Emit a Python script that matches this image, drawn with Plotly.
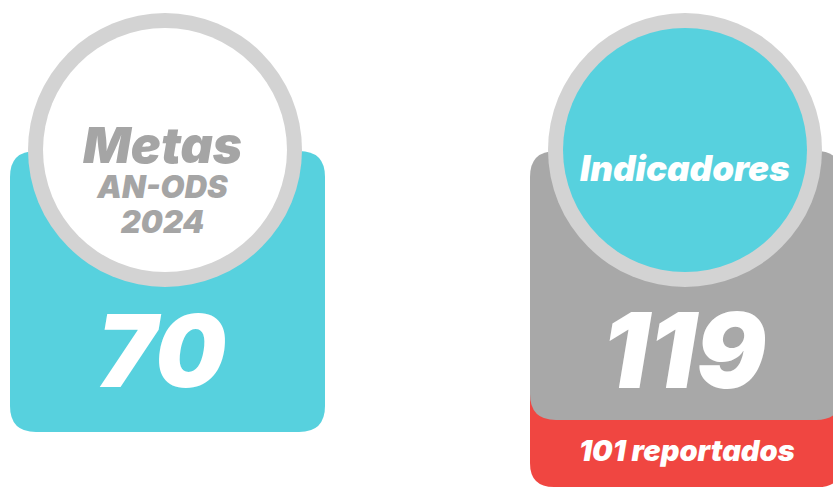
import plotly.graph_objects as go

# ---- data ----
titles = ["Metas", "Indicadores"]
subtitle_lines = ["AN-ODS", "2024"]
values = [70, 119]
reported_label = "reportados"
reported_value = 101

W, H = 833, 487
TEAL = "#57D1DE"
GRAY = "#A8A8A8"
RING = "#D3D3D3"
RED = "#F04641"
TXTGRAY = "#A5A5A5"
FONT = "Inter"


def rounded_rect(x0, y0, x1, y1, r):
    return (f"M {x0+r},{y0} L {x1-r},{y0} Q {x1},{y0} {x1},{y0+r} "
            f"L {x1},{y1-r} Q {x1},{y1} {x1-r},{y1} L {x0+r},{y1} "
            f"Q {x0},{y1} {x0},{y1-r} L {x0},{y0+r} Q {x0},{y0} {x0+r},{y0} Z")


def f(size, color):
    return dict(family=FONT, size=size, color=color, weight=900, style="italic")


fig = go.Figure()
shapes = []
annotations = []

cards = [
    dict(x0=10, x1=325, cx=165, card_color=TEAL, inner="white", bottom=432),
    dict(x0=530, x1=842, cx=685, card_color=GRAY, inner=TEAL, bottom=420),
]

# red band behind right card
shapes.append(dict(type="path", path=rounded_rect(530, 360, 842, 487, 24),
                   fillcolor=RED, line=dict(width=0), layer="below"))

for i, c in enumerate(cards):
    shapes.append(dict(type="path", path=rounded_rect(c["x0"], 151, c["x1"], c["bottom"], 26),
                       fillcolor=c["card_color"], line=dict(width=0), layer="below"))
    R, r = 137, 122
    cy = 150
    shapes.append(dict(type="circle", x0=c["cx"] - R, x1=c["cx"] + R, y0=cy - R, y1=cy + R,
                       fillcolor=RING, line=dict(width=0), layer="below"))
    shapes.append(dict(type="circle", x0=c["cx"] - r, x1=c["cx"] + r, y0=cy - r, y1=cy + r,
                       fillcolor=c["inner"], line=dict(width=0), layer="below"))

annotations.append(dict(x=163, y=350, text=f"{values[0]}", showarrow=False,
                        font=f(100, "white"), xanchor="center", yanchor="middle"))
annotations.append(dict(x=685, y=350, text=f"{values[1]}", showarrow=False,
                        font=f(104, "white"), xanchor="center", yanchor="middle"))

left_text = (f'<span style="font-size:50px">{titles[0]}</span><br>'
             f'<span style="font-size:31px">{subtitle_lines[0]}</span><br>'
             f'<span style="font-size:31px">{subtitle_lines[1]}</span>')
annotations.append(dict(x=162, y=177, text=left_text, showarrow=False, align="center",
                        font=f(27, TXTGRAY), xanchor="center", yanchor="middle"))
annotations.append(dict(x=685, y=168, text=titles[1], showarrow=False,
                        font=f(35, "white"), xanchor="center", yanchor="middle"))
annotations.append(dict(x=687, y=450, text=f"{reported_value} {reported_label}", showarrow=False,
                        font=f(29, "white"), xanchor="center", yanchor="middle"))

fig.update_layout(
    width=W, height=H, margin=dict(l=0, r=0, t=0, b=0),
    paper_bgcolor="white", plot_bgcolor="white",
    xaxis=dict(range=[0, W], visible=False, fixedrange=True),
    yaxis=dict(range=[H, 0], visible=False, fixedrange=True),
    shapes=shapes, annotations=annotations, showlegend=False,
)
fig.write_html("out.html", config={"displayModeBar": False},
               post_script="document.body.style.margin='0';document.body.style.overflow='hidden';")
